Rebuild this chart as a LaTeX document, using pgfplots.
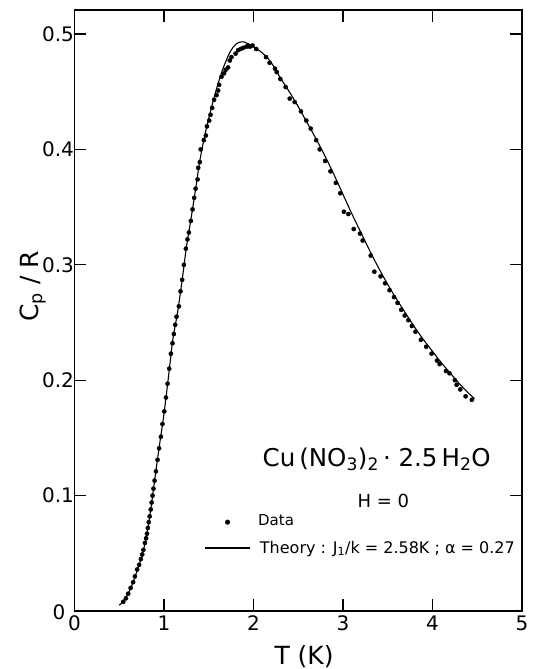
\documentclass[border=0pt]{standalone}
\usepackage{pgfplots}
\pgfplotsset{compat=1.18}
\usepackage{pgfplotstable}
\usepackage{fontspec}
\setmainfont{DejaVu Sans}
\pgfplotstableread{
T C
0.545 0.008
0.575 0.011
0.600 0.015
0.627 0.020
0.655 0.025
0.675 0.030
0.700 0.036
0.722 0.040
0.742 0.045
0.757 0.049
0.770 0.053
0.787 0.059
0.800 0.063
0.810 0.067
0.820 0.072
0.830 0.077
0.840 0.082
0.852 0.088
0.862 0.094
0.872 0.100
0.882 0.106
0.895 0.113
0.910 0.121
0.928 0.131
0.945 0.141
0.965 0.151
0.983 0.162
1.003 0.173
1.022 0.185
1.040 0.197
1.058 0.210
1.077 0.223
1.095 0.232
1.110 0.240
1.125 0.248
1.140 0.255
1.166 0.264
1.185 0.277
1.203 0.287
1.222 0.300
1.244 0.314
1.262 0.322
1.278 0.328
1.300 0.338
1.319 0.348
1.337 0.358
1.353 0.366
1.375 0.374
1.382 0.384
1.400 0.389
1.410 0.400
1.445 0.408
1.468 0.412
1.480 0.420
1.505 0.425
1.520 0.430
1.538 0.436
1.560 0.443
1.587 0.447
1.605 0.451
1.616 0.456
1.643 0.463
1.672 0.466
1.690 0.469
1.716 0.471
1.735 0.477
1.754 0.480
1.800 0.483
1.828 0.486
1.858 0.487
1.884 0.488
1.920 0.489
1.940 0.490
1.960 0.489
1.990 0.490
2.030 0.487
2.140 0.480
2.180 0.475
2.240 0.470
2.260 0.467
2.300 0.461
2.360 0.454
2.405 0.444
2.460 0.441
2.530 0.433
2.590 0.425
2.640 0.418
2.700 0.408
2.740 0.400
2.800 0.390
2.860 0.381
2.920 0.371
2.970 0.362
3.010 0.346
3.060 0.344
3.120 0.331
3.190 0.327
3.220 0.321
3.310 0.308
3.350 0.294
3.420 0.290
3.470 0.284
3.520 0.278
3.570 0.272
3.610 0.267
3.650 0.261
3.690 0.256
3.730 0.252
3.770 0.247
3.810 0.242
3.870 0.235
3.930 0.229
3.990 0.223
4.050 0.217
4.080 0.214
4.150 0.208
4.190 0.206
4.250 0.200
4.270 0.196
4.310 0.192
4.370 0.186
4.440 0.183
}\datatable
\pgfplotstableread{
T C
0.50 0.005
0.55 0.009
0.60 0.015
0.65 0.024
0.70 0.035
0.75 0.047
0.80 0.063
0.85 0.087
0.90 0.116
0.95 0.144
1.00 0.171
1.05 0.203
1.10 0.236
1.15 0.258
1.20 0.285
1.25 0.315
1.30 0.339
1.35 0.364
1.40 0.390
1.45 0.410
1.50 0.427
1.55 0.442
1.60 0.456
1.65 0.468
1.70 0.478
1.75 0.486
1.80 0.491
1.85 0.493
1.90 0.493
1.95 0.491
2.00 0.489
2.10 0.4835
2.20 0.475
2.30 0.462
2.40 0.450
2.50 0.437
2.60 0.423
2.70 0.409
2.80 0.394
2.90 0.378
3.00 0.361
3.10 0.344
3.20 0.328
3.30 0.312
3.40 0.297
3.50 0.283
3.60 0.270
3.70 0.258
3.80 0.246
3.90 0.235
4.00 0.225
4.10 0.215
4.20 0.206
4.30 0.197
4.40 0.189
4.47 0.184
}\theorytable
\begin{document}
\begin{tikzpicture}
\path[use as bounding box] (-74.5pt,-58pt) rectangle (467.5pt,611pt);
\begin{axis}[
  at={(0pt,0pt)}, anchor=south west,
  scale only axis, width=447.5pt, height=601pt,
  xmin=0, xmax=5, ymin=0, ymax=0.5208,
  xtick={0,1,2,3,4,5}, xticklabels={0,1,2,3,4,5},
  ytick={0,0.1,0.2,0.3,0.4,0.5},
  yticklabels={{},0.1,0.2,0.3,0.4,0.5},
  tick align=inside, tick pos=both, major tick length=12pt,
  axis line style={line width=1.2pt},
  tick style={line width=1.1pt, black},
  tick label style={font=\fontsize{20}{24}\selectfont},
  xticklabel style={yshift=-1pt},
  yticklabel style={xshift=3pt},
  xlabel={T (K)}, ylabel={C\textsubscript{p} / R},
  label style={font=\fontsize{25}{30}\selectfont},
  xlabel style={at={(axis description cs:0.513,-0.076)}, anchor=center},
  ylabel style={at={(axis description cs:-0.093,0.54)}, anchor=center},
  clip=false,
]
\addplot[only marks, mark=*, mark size=2.1pt, black] table[x=T,y=C] {\datatable};
\addplot[black, line width=1.1pt, smooth] table[x=T,y=C] {\theorytable};
% legend
\addplot[only marks, mark=*, mark size=2.3pt, black] coordinates {(1.71,0.077)};
\addplot[black, line width=1.1pt] coordinates {(1.46,0.0546) (1.96,0.0546)};
\node[anchor=east, inner sep=0pt, xshift=-9pt, yshift=-1pt, font=\fontsize{20}{24}\selectfont] at (axis cs:0,0) {0};
\node[anchor=base west, inner sep=0pt, font=\fontsize{24.5}{28}\selectfont] at (axis cs:2.10,0.125) {Cu\,(NO\textsubscript{3})\textsubscript{2}\,· 2.5\,H\textsubscript{2}O};
\node[anchor=base, inner sep=0pt, font=\fontsize{18}{20}\selectfont] at (axis cs:3.45,0.090) {H = 0};
\node[anchor=base west, inner sep=0pt, font=\fontsize{15}{18}\selectfont] at (axis cs:2.05,0.074) {Data};
\node[anchor=base west, inner sep=0pt, font=\fontsize{16}{18}\selectfont] at (axis cs:2.07,0.050) {Theory : J\textsubscript{1}/k = 2.58K ; α = 0.27};
\end{axis}
\end{tikzpicture}
\end{document}
